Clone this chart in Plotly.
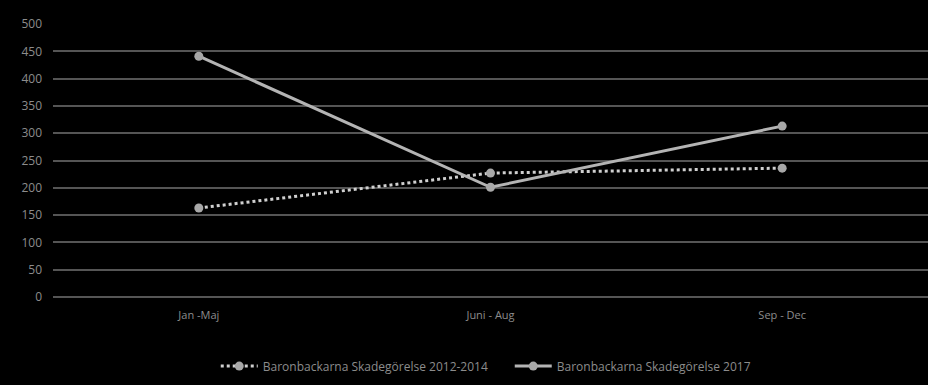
import plotly.graph_objects as go

categories = ["Jan -Maj", "Juni - Aug", "Sep - Dec"]
series_2012_2014 = [163, 227, 236]
series_2017 = [441, 201, 313]
y_ticks = [0, 50, 100, 150, 200, 250, 300, 350, 400, 450, 500]

fig = go.Figure()
fig.add_trace(go.Scatter(
    x=categories, y=series_2012_2014, mode="lines+markers",
    name="Baronbackarna Skadegörelse 2012-2014",
    line=dict(color="#d0d0d0", width=3, dash="dot"),
    marker=dict(color="#a8a8a8", size=9),
))
fig.add_trace(go.Scatter(
    x=categories, y=series_2017, mode="lines+markers",
    name="Baronbackarna Skadegörelse 2017",
    line=dict(color="#b4b4b4", width=3),
    marker=dict(color="#a8a8a8", size=9),
))

fig.update_layout(
    width=928, height=385,
    paper_bgcolor="black", plot_bgcolor="black",
    margin=dict(l=53, r=0, t=24, b=88),
    font=dict(family="Open Sans", size=11, color="#8c8c8c"),
    showlegend=True,
    legend=dict(orientation="h", x=0.522, xanchor="center", y=-0.2, yanchor="top",
                font=dict(size=12, color="#8c8c8c"), itemwidth=37,
                entrywidth=242, entrywidthmode="pixels"),
    xaxis=dict(range=[-0.5, 2.5], showgrid=False, showline=False, zeroline=False, ticks="",
               ticklabelstandoff=10,
               tickfont=dict(size=11, color="#8c8c8c")),
    yaxis=dict(range=[0, 500], tickvals=y_ticks, showgrid=True, gridcolor="#555555",
               gridwidth=1.5, zeroline=True, zerolinecolor="#555555", zerolinewidth=1.5,
               ticks="", ticklabelstandoff=10, tickfont=dict(size=12, color="#8c8c8c")),
)
fig.write_html("out.html")
